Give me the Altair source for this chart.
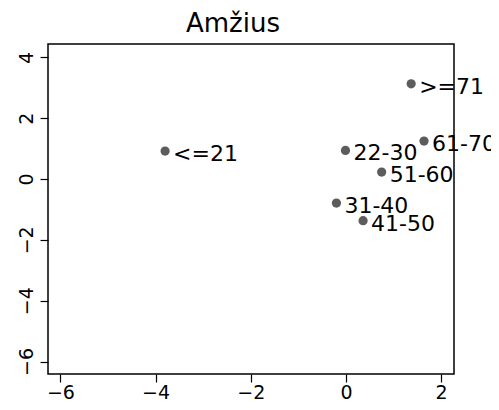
import altair as alt
import pandas as pd

labels = ["<=21", "22-30", "31-40", "41-50", "51-60", "61-70", ">=71"]
xs = [-3.80, -0.01, -0.20, 0.36, 0.75, 1.64, 1.37]
ys = [0.92, 0.94, -0.79, -1.37, 0.23, 1.25, 3.13]
x_ticks = [-6, -4, -2, 0, 2]
y_ticks = [-6, -4, -2, 0, 2, 4]

df = pd.DataFrame({"label": labels, "x": xs, "y": ys})

FONT = "DejaVu Sans"

xenc = alt.X("x:Q", scale=alt.Scale(domain=[-6.26, 2.27], nice=False, zero=False),
             axis=alt.Axis(values=x_ticks, title=None, grid=False, domain=False,
                           tickColor="black", tickSize=8, tickWidth=1.2,
                           labelFont=FONT, labelFontSize=19, labelColor="black",
                           labelPadding=1, labelFlush=False))
yenc = alt.Y("y:Q", scale=alt.Scale(domain=[-6.41, 4.44], nice=False, zero=False),
             axis=alt.Axis(values=y_ticks, title=None, grid=False, domain=False,
                           tickColor="black", tickSize=8, tickWidth=1.2,
                           labelFont=FONT, labelFontSize=19, labelColor="black",
                           labelAngle=270, labelAlign="center", labelBaseline="bottom",
                           labelPadding=4, labelFlush=False))

base = alt.Chart(df)
points = base.mark_circle(size=85, color="#5c5c5c", opacity=1).encode(x=xenc, y=yenc)
text = base.mark_text(align="left", baseline="alphabetic", dx=8, dy=10,
                      font=FONT, fontSize=22, color="black").encode(
    x="x:Q", y="y:Q", text="label:N")

chart = (points + text).properties(
    width=406, height=330,
    title=alt.TitleParams("Amžius", font=FONT, fontSize=26, fontWeight="normal",
                          color="black", anchor="middle", dx=-18, offset=7),
    autosize=alt.AutoSizeParams(type="none"),
    padding={"left": 40, "top": 36, "right": 37, "bottom": 30},
).configure_view(stroke="black", strokeWidth=1.5)

chart.save("out.html", embed_options={"renderer": "svg", "actions": False})
